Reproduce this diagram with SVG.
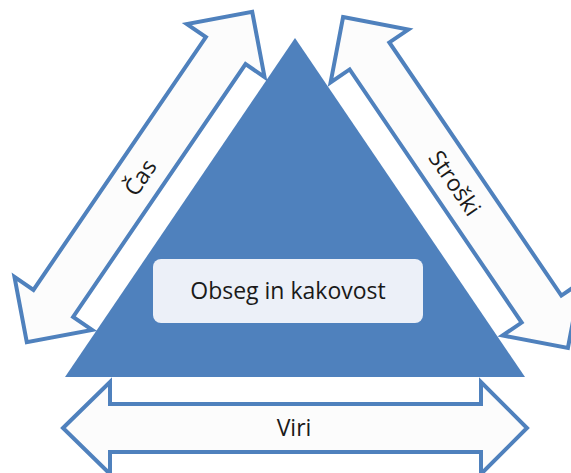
<svg xmlns="http://www.w3.org/2000/svg" width="571" height="473" viewBox="0 0 571 473">
  <style>
    .arrow { fill: #fcfcfc; stroke: #4f81bd; stroke-width: 4; stroke-linejoin: miter; }
    .label { font-family: "Open Sans", "Liberation Sans", sans-serif; font-size: 23px; fill: #1a1a1a; text-anchor: middle; dominant-baseline: central; }
  </style>
  <defs>
    <!-- double-headed block arrow, centred on the origin, total length 400 -->
    <path id="dbl400" d="M -200,0 L -153,-47 L -153,-24 L 153,-24 L 153,-47 L 200,0 L 153,47 L 153,24 L -153,24 L -153,47 Z"/>
  </defs>

  <rect width="571" height="473" fill="#ffffff"/>

  <g id="triangle">
    <polygon points="295,38 65,377 525,377" fill="#4f81bd"/>
  </g>

  <g id="scope">
    <rect x="153" y="259" width="270" height="64" rx="8" ry="8" fill="#ecf0f8"/>
    <text class="label" x="288" y="290">Obseg in kakovost</text>
  </g>

  <g id="connectors">
    <g id="cas" transform="translate(139.5,177) rotate(-55.7)">
      <use href="#dbl400" class="arrow"/>
      <text class="label" x="0" y="0">Čas</text>
    </g>
    <g id="stroski" transform="translate(455.5,182.5) rotate(55.8)">
      <use href="#dbl400" class="arrow"/>
      <text class="label" x="0" y="0">Stroški</text>
    </g>
    <g id="viri">
      <path class="arrow" d="M 63,428 L 110,382 L 110,404 L 481,404 L 481,382 L 527,428 L 481,474 L 481,452 L 110,452 L 110,474 Z"/>
      <text class="label" x="294" y="427">Viri</text>
    </g>
  </g>
</svg>
